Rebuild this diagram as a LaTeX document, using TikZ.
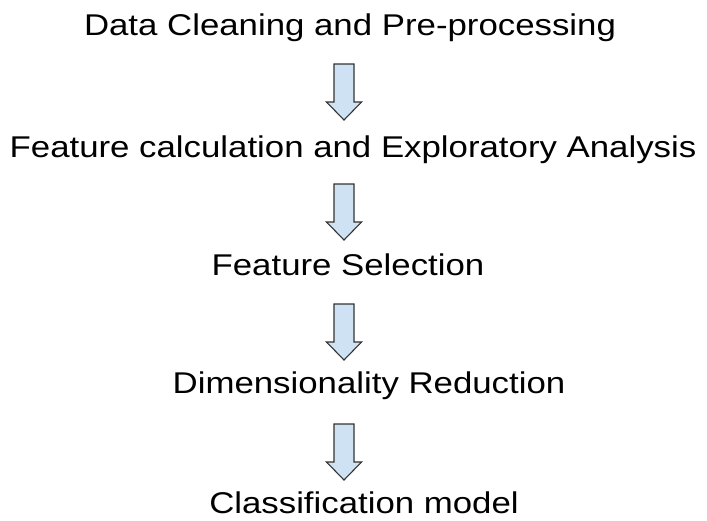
\documentclass[tikz,border=0pt]{standalone}
\usepackage{fontspec}
\setmainfont[FakeStretch=1.16]{Liberation Sans}
\usetikzlibrary{calc}
\definecolor{arrowfill}{HTML}{CFE2F3}
\definecolor{arrowline}{HTML}{333333}

\begin{document}
\begin{tikzpicture}[
  x=1pt, y=-1pt,
  stage/.style={font=\fontsize{30}{36}\selectfont, anchor=base, inner sep=0pt},
  flowarrow/.style={draw=arrowline, fill=arrowfill, line width=1.1pt, line join=miter}]
\useasboundingbox (0,0) rectangle (707,520);
\node[stage] (clean) at (350,35) {Data Cleaning and Pre-processing};
\node[stage] (feat) at (353,157) {Feature calculation and Exploratory Analysis};
\node[stage] (sel) at (348,275) {Feature Selection};
\node[stage] (dim) at (369,393) {Dimensionality Reduction};
\node[stage] (cls) at (364,513) {Classification model};
% block arrows between the stages
\coordinate (a1) at (344,92);
\coordinate (a2) at (344,212);
\coordinate (a3) at (344,332);
\coordinate (a4) at (344,452);
\foreach \a in {a1,a2,a3,a4}
  \draw[flowarrow] ($(\a)+(-10,-28)$) -- ++(20,0) -- ++(0,38) -- ++(7.5,0)
    -- ++(-17.5,18) -- ++(-17.5,-18) -- ++(7.5,0) -- cycle;
\end{tikzpicture}
\end{document}
